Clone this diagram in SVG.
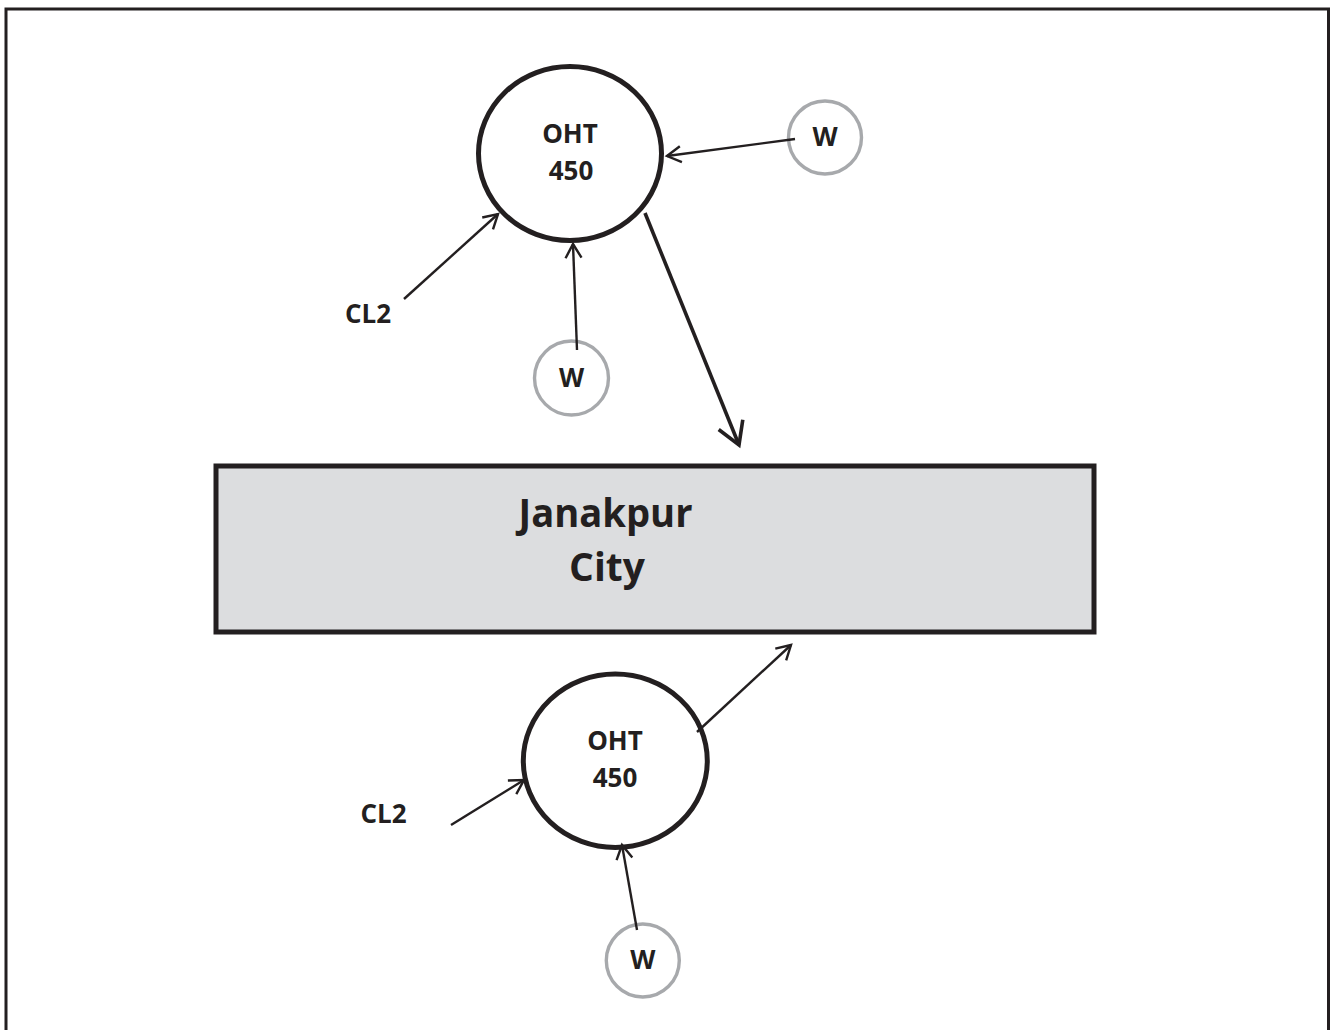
<svg xmlns="http://www.w3.org/2000/svg" width="1330" height="1030" viewBox="0 0 1330 1030">
  <style>
    .lbl { font-family: "Open Sans", "Liberation Sans", sans-serif; font-weight: 700; fill: #231f20; text-anchor: middle; }
    .tank { fill: #ffffff; stroke: #231f20; stroke-width: 5; }
    .well { fill: #ffffff; stroke: #a7a9ac; stroke-width: 3.4; }
    .city { fill: #dcdddf; stroke: #231f20; stroke-width: 5; }
    .flow { fill: none; stroke: #231f20; stroke-width: 2.4; marker-end: url(#head); }
    .main { fill: none; stroke: #231f20; stroke-width: 3.6; marker-end: url(#bighead); }
  </style>
  <defs>
    <marker id="head" markerUnits="userSpaceOnUse" orient="auto" refX="0" refY="0" markerWidth="20" markerHeight="20" overflow="visible">
      <path d="M-14,-8 L0,0 L-14,8" fill="none" stroke="#231f20" stroke-width="2.4"/>
    </marker>
    <marker id="bighead" markerUnits="userSpaceOnUse" orient="auto" refX="0" refY="0" markerWidth="30" markerHeight="30" overflow="visible">
      <path d="M-22,-13 L0,0 L-22,13" fill="none" stroke="#231f20" stroke-width="3.6"/>
    </marker>
  </defs>

  <rect x="0" y="0" width="1330" height="1030" fill="#ffffff"/>
  <!-- page frame -->
  <rect x="6" y="9" width="1322.5" height="1100" fill="none" stroke="#231f20" stroke-width="3"/>

  <!-- upper overhead tank -->
  <g id="oht-top">
    <ellipse class="tank" cx="570" cy="153.5" rx="91.5" ry="87"/>
    <text class="lbl" x="570" y="143" font-size="26">OHT</text>
    <text class="lbl" x="571" y="180" font-size="26">450</text>
  </g>
  <g id="cl2-top">
    <text class="lbl" x="368" y="323" font-size="26">CL2</text>
  </g>
  <g id="well-top-right">
    <circle class="well" cx="825" cy="137.5" r="36.5"/>
    <text class="lbl" x="825" y="146" font-size="26">W</text>
  </g>
  <g id="well-top-bottom">
    <circle class="well" cx="571.5" cy="378" r="37"/>
    <text class="lbl" x="571.5" y="387" font-size="26">W</text>
  </g>

  <!-- city -->
  <g id="city">
    <rect class="city" x="216" y="466" width="878" height="166"/>
    <text class="lbl" x="605.5" y="527" font-size="39" textLength="174" lengthAdjust="spacingAndGlyphs">Janakpur</text>
    <text class="lbl" x="607" y="581" font-size="39">City</text>
  </g>

  <!-- lower overhead tank -->
  <g id="oht-bottom">
    <ellipse class="tank" cx="615.3" cy="760.8" rx="92" ry="86.7"/>
    <text class="lbl" x="615" y="750" font-size="26">OHT</text>
    <text class="lbl" x="615" y="787" font-size="26">450</text>
  </g>
  <g id="cl2-bottom">
    <text class="lbl" x="383.5" y="823" font-size="26">CL2</text>
  </g>
  <g id="well-bottom">
    <circle class="well" cx="642.8" cy="960.5" r="36.5"/>
    <text class="lbl" x="642.8" y="969" font-size="26">W</text>
  </g>

  <!-- connectors, drawn over the node outlines -->
  <g id="connectors">
    <line class="flow" x1="404" y1="299" x2="498" y2="214"/>
    <line class="flow" x1="577" y1="350" x2="573" y2="244"/>
    <line class="flow" x1="795" y1="139" x2="667" y2="156"/>
    <line class="main" x1="645" y1="213" x2="739" y2="445"/>
    <line class="flow" x1="451" y1="825" x2="524" y2="780"/>
    <line class="flow" x1="697" y1="732" x2="791" y2="645"/>
    <line class="flow" x1="637" y1="930" x2="622" y2="845"/>
  </g>
</svg>
